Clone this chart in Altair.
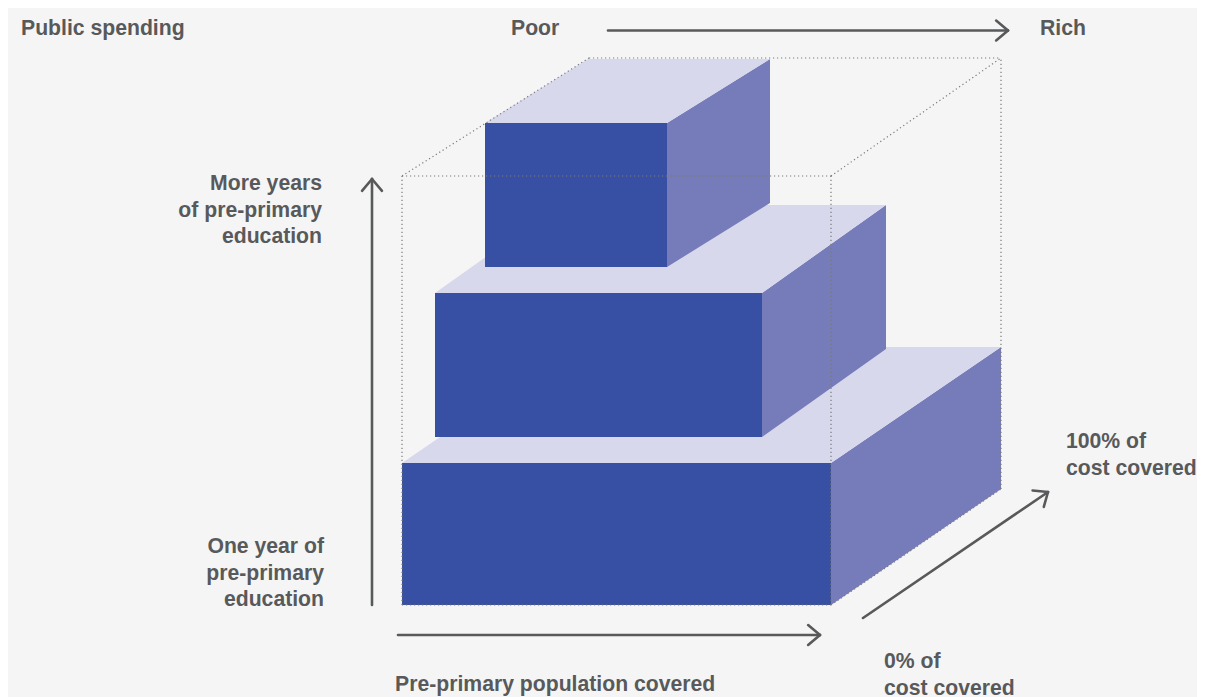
import altair as alt
import numpy as np
import pandas as pd

# ---------------- data (diagram units; origin = front-bottom-left corner of the frame) -----
tiers = ["one_year", "middle", "more_years"]
tier_x0 = [0, 33, 83]          # pre-primary population covered (start)
tier_x1 = [429, 360, 265]      # pre-primary population covered (end)
tier_y0 = [0, 168, 338]        # years of pre-primary education (bottom)
tier_y1 = [142, 312, 482]      # years of pre-primary education (top)
tier_dx = [170, 124, 103]      # cost-covered depth, horizontal component
tier_dy = [116, 88, 64]        # cost-covered depth, vertical component

# dotted frame: front rectangle and back rectangle
frame_front = [0, 429, 0, 429]      # x0, x1, y0, y1
frame_back = [187, 599, 116, 547]   # x0, x1, y0, y1

# arrows: start x, start y, end x, end y
arrow_x0 = [206, -30, -4, 461]
arrow_y0 = [574.5, 0, -30, -13]
arrow_x1 = [606, -30, 418, 646]
arrow_y1 = [574.5, 426, -30, 113]

# labels
label_text = ["Public spending", "Poor", "Rich",
              "More years\nof pre-primary\neducation",
              "One year of\npre-primary\neducation",
              "Pre-primary population covered",
              "100% of\ncost covered",
              "0% of\ncost covered"]
label_x = [-381, 109, 638, -80, -78, -7, 664, 482]
label_y = [570, 570, 570, 415, 52, -86, 157, -63]
label_align = ["left", "left", "left", "right", "right", "left", "left", "left"]

# ---------------- styling -----------------------------------------------------------------
FRONT = "#3750a3"
SIDE = "#767bba"
TOP = "#d8d8ec"
INK = "#58595b"
DOT = "#7a7a7a"
BG = "#f5f5f5"
FONT = "Liberation Sans"

W, H = 1189, 689
XDOM = [-394, 795]
YDOM = [-92, 597]


def X(f):
    return alt.X(f, type="quantitative", scale=alt.Scale(domain=XDOM, nice=False, zero=False), axis=None)


def Y(f):
    return alt.Y(f, type="quantitative", scale=alt.Scale(domain=YDOM, nice=False, zero=False), axis=None)


front_df = pd.DataFrame({"tier": tiers, "x0": tier_x0, "x1": tier_x1, "y0": tier_y0, "y1": tier_y1})

right_rows, top_rows = [], []
for t, x0, x1, y0, y1, dx, dy in zip(tiers, tier_x0, tier_x1, tier_y0, tier_y1, tier_dx, tier_dy):
    right_rows.append({"tier": t, "x": x1, "ylo": y0, "yhi": y1})
    right_rows.append({"tier": t, "x": x1 + dx, "ylo": y0 + dy, "yhi": y1 + dy})
    top_rows.append({"tier": t, "y": y1, "xlo": x0, "xhi": x1})
    top_rows.append({"tier": t, "y": y1 + dy, "xlo": x0 + dx, "xhi": x1 + dx})
right_df = pd.DataFrame(right_rows)
top_df = pd.DataFrame(top_rows)

layers = []
for t in tiers:
    layers.append(
        alt.Chart(front_df).transform_filter(alt.datum.tier == t)
        .mark_rect(color=FRONT)
        .encode(x=X("x0"), x2="x1", y=Y("y0"), y2="y1")
    )
    layers.append(
        alt.Chart(right_df).transform_filter(alt.datum.tier == t)
        .mark_area(color=SIDE, orient="vertical", opacity=1)
        .encode(x=X("x"), y=Y("ylo"), y2="yhi")
    )
    layers.append(
        alt.Chart(top_df).transform_filter(alt.datum.tier == t)
        .mark_area(color=TOP, orient="horizontal", opacity=1)
        .encode(y=Y("y"), x=X("xlo"), x2="xhi")
    )

# dotted frame edges (visible ones)
fx0, fx1, fy0, fy1 = frame_front
bx0, bx1, by0, by1 = frame_back
frame_df = pd.DataFrame([
    {"a": fx0, "b": fy1, "c": fx1, "d": fy1},   # front top
    {"a": fx0, "b": fy0, "c": fx0, "d": fy1},   # front left
    {"a": fx1, "b": fy0, "c": fx1, "d": fy1},   # front right
    {"a": fx0, "b": fy0, "c": fx1, "d": fy0},   # front bottom
    {"a": fx0, "b": fy1, "c": bx0, "d": by1},   # top-left diagonal
    {"a": fx1, "b": fy1, "c": bx1, "d": by1},   # top-right diagonal
    {"a": bx0, "b": by1, "c": bx1, "d": by1},   # back top
    {"a": bx1, "b": by0, "c": bx1, "d": by1},   # back right
    {"a": fx1, "b": fy0, "c": bx1, "d": by0},   # bottom-right diagonal
])
layers.append(
    alt.Chart(frame_df).mark_rule(color=DOT, strokeWidth=1.2, strokeDash=[1.2, 2.8])
    .encode(x=X("a"), y=Y("b"), x2="c", y2="d")
)

# arrows: shaft + two head arms
seg = []
HEAD = 15.5
ANG = np.deg2rad(40)
for x0, y0, x1, y1 in zip(arrow_x0, arrow_y0, arrow_x1, arrow_y1):
    seg.append({"a": x0, "b": y0, "c": x1, "d": y1})
    u = np.array([x1 - x0, y1 - y0], dtype=float)
    u /= np.linalg.norm(u)
    for s in (1, -1):
        c, sn = np.cos(s * ANG), np.sin(s * ANG)
        r = np.array([c * u[0] - sn * u[1], sn * u[0] + c * u[1]])
        seg.append({"a": x1, "b": y1, "c": x1 - HEAD * r[0], "d": y1 - HEAD * r[1]})
arrow_df = pd.DataFrame(seg)
layers.append(
    alt.Chart(arrow_df).mark_rule(color=INK, strokeWidth=2.6, strokeCap="round")
    .encode(x=X("a"), y=Y("b"), x2="c", y2="d")
)

label_df = pd.DataFrame({"t": label_text, "x": label_x, "y": label_y, "al": label_align})
for al in ["left", "right"]:
    layers.append(
        alt.Chart(label_df).transform_filter(alt.datum.al == al)
        .mark_text(align=al, baseline="alphabetic", font=FONT, fontSize=21.2, fontWeight="bold",
                   color=INK, lineBreak="\n", lineHeight=26.5)
        .encode(x=X("x"), y=Y("y"), text="t:N")
    )

chart = alt.layer(*layers).properties(
    width=W, height=H, padding=0, autosize="none", background=BG
).configure_view(stroke=None)

chart.save("out.html", embed_options={"renderer": "svg", "actions": False})
